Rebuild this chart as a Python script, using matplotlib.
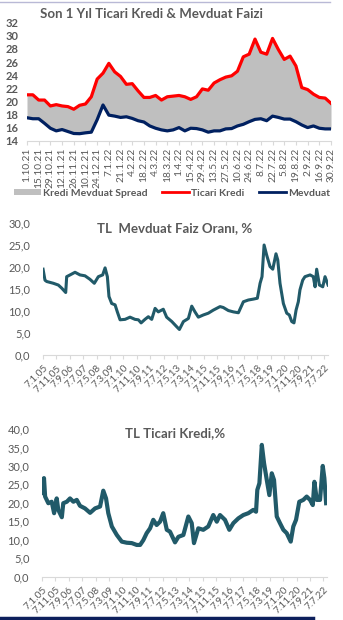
import matplotlib
matplotlib.use("Agg")
import matplotlib.pyplot as plt
import numpy as np
import pandas as pd
from matplotlib.lines import Line2D
from matplotlib.patches import Patch

plt.rcParams['font.family'] = ['Lato', 'DejaVu Sans']

# ---------------- Panel 1 data (weekly, 1.10.21 .. 30.9.22) ----------------
ticari_kredi = [21.0, 21.0, 20.2, 20.2, 19.3, 19.5, 19.3, 19.2, 18.8, 19.4,
                19.6, 20.7, 23.4, 24.3, 25.8, 24.5, 23.8, 22.6, 22.7, 21.6,
                20.6, 20.6, 20.9, 20.2, 20.7, 20.8, 20.9, 20.7, 20.3, 20.7,
                21.9, 21.7, 22.8, 23.3, 23.7, 23.9, 24.6, 26.8, 27.2, 29.5,
                27.5, 27.2, 29.6, 27.9, 26.4, 26.9, 25.4, 22.1, 21.8, 21.1,
                20.6, 20.5, 19.7]
mevduat = [17.5, 17.35, 17.35, 16.65, 15.9, 15.5, 15.7, 15.4, 15.1, 15.07,
           15.2, 15.3, 17.2, 19.45, 17.9, 17.75, 17.55, 17.65, 17.4, 17.05,
           16.85, 16.25, 15.9, 15.65, 15.5, 15.65, 16.0, 15.5, 15.9, 15.85,
           15.65, 15.3, 15.5, 15.5, 15.8, 15.85, 16.25, 16.5, 16.9, 17.25,
           17.35, 17.05, 17.75, 17.55, 17.3, 17.3, 16.9, 16.4, 16.0, 16.25,
           15.9, 15.8, 15.8]
p1_labels = ["1.10.21", "15.10.21", "29.10.21", "12.11.21", "26.11.21", "10.12.21",
             "24.12.21", "7.1.22", "21.1.22", "4.2.22", "18.2.22", "4.3.22",
             "18.3.22", "1.4.22", "15.4.22", "29.4.22", "13.5.22", "27.5.22",
             "10.6.22", "24.6.22", "8.7.22", "22.7.22", "5.8.22", "19.8.22",
             "2.9.22", "16.9.22", "30.9.22"]

# ---------------- Panel 2 data: TL Mevduat (decimal year, %) ----------------
dep_t = [2005.02, 2005.14, 2005.25, 2005.66, 2005.97, 2006.18, 2006.43, 2006.49,
         2006.70, 2007.01, 2007.32, 2007.63, 2007.94, 2008.21, 2008.46, 2008.73,
         2008.88, 2009.02, 2009.12, 2009.29, 2009.50, 2009.64, 2009.81, 2010.12,
         2010.43, 2010.74, 2010.95, 2011.12, 2011.36, 2011.57, 2011.78, 2011.99,
         2012.19, 2012.50, 2012.71, 2013.03, 2013.34, 2013.50, 2013.75, 2014.06,
         2014.27, 2014.47, 2014.68, 2014.99, 2015.30, 2015.61, 2016.03, 2016.23,
         2016.55, 2016.86, 2017.17, 2017.48, 2017.79, 2018.10, 2018.35, 2018.52,
         2018.64, 2018.77, 2018.93, 2019.14, 2019.31, 2019.51, 2019.62, 2019.76,
         2019.97, 2020.18, 2020.34, 2020.49, 2020.63, 2020.76, 2020.90, 2021.00,
         2021.17, 2021.31, 2021.63, 2021.83, 2021.94, 2022.04, 2022.21, 2022.42,
         2022.56, 2022.75]
dep_v = [19.5, 17.0, 16.7, 16.3, 15.9, 15.2, 14.2, 17.8,
         18.2, 18.8, 18.2, 18.0, 17.2, 16.3, 17.8, 18.2,
         19.8, 17.8, 13.3, 11.7, 11.4, 9.8, 8.0, 8.1,
         8.6, 8.1, 8.0, 7.3, 8.1, 8.7, 8.1, 10.6,
         9.8, 10.4, 8.6, 7.6, 6.4, 5.8, 7.6, 8.3,
         11.1, 9.8, 8.6, 9.1, 9.5, 10.2, 11.0, 10.8,
         10.1, 9.8, 9.6, 12.1, 12.5, 12.7, 12.9, 16.3,
         17.8, 25.0, 22.7, 20.1, 19.5, 23.0, 21.6, 16.3,
         11.7, 9.5, 9.1, 7.6, 7.3, 10.2, 12.1, 14.8,
         17.0, 17.8, 18.2, 17.8, 15.5, 19.5, 15.9, 15.5,
         17.8, 15.9]

# ---------------- Panel 3 data: TL Ticari Kredi (decimal year, %) ----------------
loan_t = [2005.02, 2005.06, 2005.14, 2005.21, 2005.41, 2005.62, 2005.77, 2005.93,
          2006.03, 2006.25, 2006.34, 2006.56, 2006.76, 2006.97, 2007.18, 2007.38,
          2007.69, 2008.01, 2008.32, 2008.63, 2008.83, 2009.00, 2009.14, 2009.36,
          2009.67, 2009.98, 2010.29, 2010.60, 2010.91, 2011.12, 2011.32, 2011.53,
          2011.74, 2011.94, 2012.15, 2012.36, 2012.56, 2012.78, 2012.98, 2013.29,
          2013.50, 2013.81, 2014.12, 2014.33, 2014.47, 2014.74, 2015.05, 2015.36,
          2015.67, 2015.89, 2016.09, 2016.40, 2016.67, 2016.92, 2017.23, 2017.54,
          2017.85, 2018.16, 2018.33, 2018.41, 2018.54, 2018.69, 2018.83, 2019.00,
          2019.16, 2019.31, 2019.45, 2019.62, 2019.82, 2020.03, 2020.24, 2020.49,
          2020.65, 2020.82, 2021.02, 2021.27, 2021.48, 2021.69, 2021.86, 2021.96,
          2022.11, 2022.31, 2022.48, 2022.58, 2022.69]
loan_v = [26.4, 22.6, 26.7, 21.7, 19.9, 20.3, 17.2, 21.2,
          18.1, 16.1, 19.9, 20.3, 21.2, 20.3, 20.8, 19.2,
          18.5, 17.3, 18.5, 19.0, 23.3, 21.2, 17.2, 13.6,
          11.3, 9.5, 9.2, 9.1, 8.6, 8.6, 9.9, 11.8,
          13.1, 15.4, 14.0, 14.9, 17.2, 12.7, 12.2, 9.3,
          10.8, 11.3, 16.3, 14.5, 9.1, 13.1, 12.7, 13.6,
          16.7, 14.9, 16.7, 15.4, 12.7, 14.5, 15.8, 16.7,
          17.2, 18.1, 17.6, 23.5, 25.3, 35.7, 30.7, 26.2,
          22.1, 28.0, 26.2, 16.3, 14.5, 12.7, 11.8, 9.5,
          13.6, 15.4, 20.3, 20.8, 21.7, 20.8, 19.4, 25.7,
          20.8, 20.8, 30.0, 26.7, 19.9]

long_labels = ["7.1.05", "7.11.05", "7.9.06", "7.7.07", "7.5.08", "7.3.09", "7.1.10",
               "7.11.10", "7.9.11", "7.7.12", "7.5.13", "7.3.14", "7.1.15", "7.11.15",
               "7.9.16", "7.7.17", "7.5.18", "7.3.19", "7.1.20", "7.11.20", "7.9.21",
               "7.7.22"]


def dec_to_date(y):
    yr = int(np.floor(y))
    return pd.Timestamp(yr, 1, 1) + pd.Timedelta(days=(y - yr) * 365.25)


GRAY_TXT = '#595959'
AXIS_C = '#d9d9d9'
TEAL = '#215a69'

fig = plt.figure(figsize=(3.43, 6.2), dpi=100)
W, H = 343, 620


def rect(l, r, top, bot):
    return [l / W, 1 - bot / H, (r - l) / W, (bot - top) / H]


# ---------------- Panel 1 ----------------
ax1 = fig.add_axes(rect(27, 331, 22.7, 140.7))
x = np.arange(len(ticari_kredi))
ax1.fill_between(x, mevduat, ticari_kredi, color='#bfbfbf', lw=0)
ax1.plot(x, ticari_kredi, color='#ff0000', lw=2.3, solid_joinstyle='round')
ax1.plot(x, mevduat, color='#002060', lw=2.3, solid_joinstyle='round')
ax1.set_xlim(0, len(x) - 1)
ax1.set_ylim(14, 32)
ax1.set_yticks(np.arange(14, 33, 2))
ax1.set_xticks(np.arange(0, len(x), 2))
ax1.set_xticklabels(p1_labels, rotation=90, fontsize=7.3, color=GRAY_TXT)
for lab in ax1.get_yticklabels():
    lab.set_fontweight('bold')
ax1.tick_params(axis='y', length=0, pad=6, labelsize=8, labelcolor=GRAY_TXT)
ax1.tick_params(axis='x', length=3, color=AXIS_C, pad=2)
for s in ['top', 'right', 'left']:
    ax1.spines[s].set_visible(False)
ax1.spines['bottom'].set_color(AXIS_C)
fig.text(151.5 / W, 1 - 14 / H, "Son 1 Yıl Ticari Kredi & Mevduat Faizi",
         ha='center', va='center', fontsize=9.5, fontweight='bold', color=GRAY_TXT)

handles = [Patch(facecolor='#bfbfbf', edgecolor='none'),
           Line2D([], [], color='#ff0000', lw=2),
           Line2D([], [], color='#002060', lw=2)]
fig.legend(handles, ["Kredi Mevduat Spread", "Ticari Kredi", "Mevduat"],
           loc='center', bbox_to_anchor=(172 / W, 1 - 193 / H), ncol=3,
           frameon=False, handlelength=2.6, handleheight=0.5,
           handletextpad=0.2, columnspacing=1.4, labelcolor=GRAY_TXT,
           prop={'weight': 'bold', 'size': 7.5})

tick_dates = [pd.Timestamp(2005, 1, 7) + pd.DateOffset(months=10 * i) for i in range(len(long_labels))]


def long_panel(ax, t, v, ymax, ystep, lw):
    dates = [dec_to_date(y) for y in t]
    ax.plot(dates, v, color=TEAL, lw=lw, solid_joinstyle='round')
    ax.set_xlim(pd.Timestamp(2005, 1, 7), pd.Timestamp(2022, 9, 30))
    ax.set_ylim(0, ymax)
    ax.set_yticks(np.arange(0, ymax + 0.1, ystep))
    ax.set_yticklabels([f"{y:.1f}".replace('.', ',') for y in np.arange(0, ymax + 0.1, ystep)])
    ax.set_xticks(tick_dates)
    ax.set_xticklabels(long_labels, rotation=45, ha='right', rotation_mode='anchor',
                       fontsize=7.3, color=GRAY_TXT)
    ax.tick_params(axis='y', length=0, pad=9, labelsize=8, labelcolor=GRAY_TXT)
    ax.tick_params(axis='x', length=3, color=AXIS_C, pad=3)
    for s in ['top', 'right', 'left']:
        ax.spines[s].set_visible(False)
    ax.spines['bottom'].set_color(AXIS_C)


# ---------------- Panel 2 ----------------
ax2 = fig.add_axes(rect(43, 328, 223, 355))
long_panel(ax2, dep_t, dep_v, 30, 5, 2.2)
fig.text(174.5 / W, 1 - 228 / H, "TL  Mevduat Faiz Oranı, %", ha='center', va='center',
         fontsize=9.5, fontweight='bold', color=GRAY_TXT)

# ---------------- Panel 3 ----------------
ax3 = fig.add_axes(rect(42, 327, 429, 576.7))
long_panel(ax3, loan_t, loan_v, 40, 5, 3.0)
fig.text(175 / W, 1 - 433 / H, "TL Ticari Kredi,%", ha='center', va='center',
         fontsize=9.5, fontweight='bold', color=GRAY_TXT)

# frame decorations
fig.add_artist(Line2D([0, 330 / W], [1 - 2 / H, 1 - 2 / H], color='#b9b9d6', lw=1))
fig.add_artist(Line2D([0, 313 / W], [1 - 618 / H, 1 - 618 / H], color='#0d1f5c', lw=2.5))

fig.savefig("out.png", dpi=100)
